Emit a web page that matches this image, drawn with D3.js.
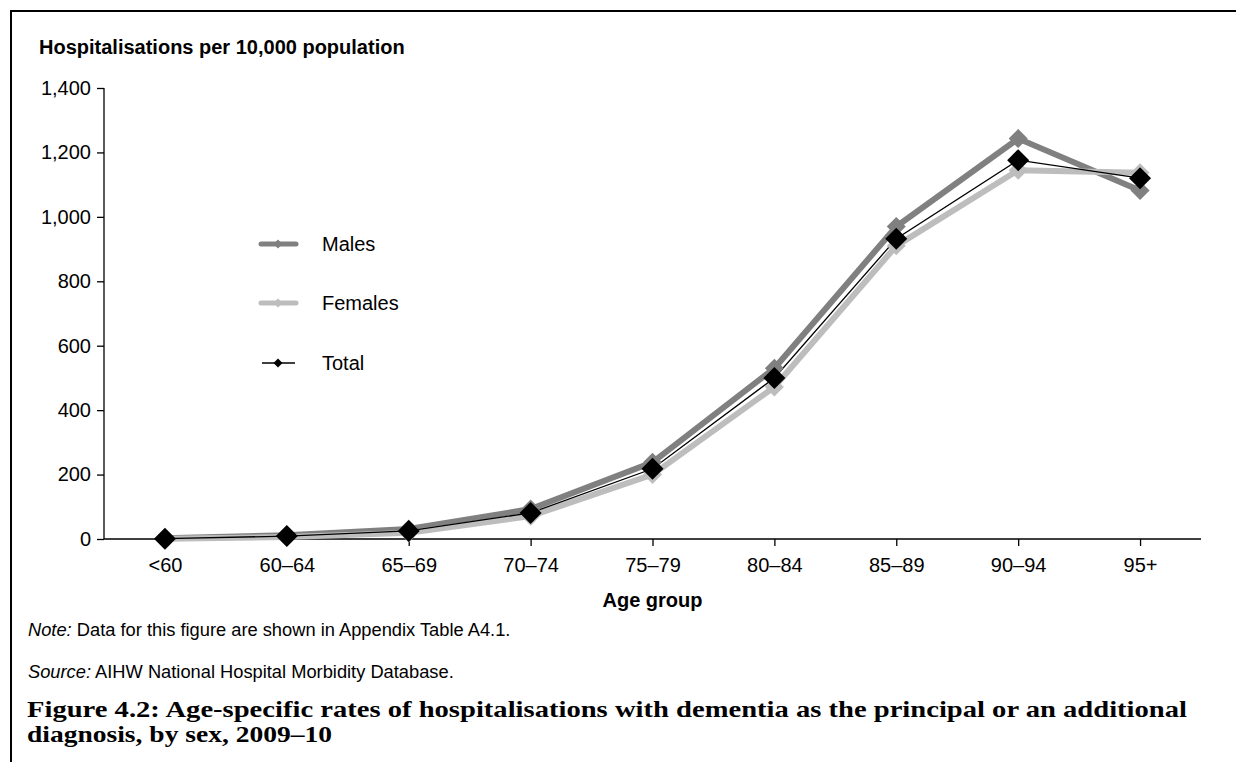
<!DOCTYPE html>
<html><head><meta charset="utf-8">
<script src="https://cdn.jsdelivr.net/npm/d3@7"></script>
<style>body{margin:0;background:#fff}svg{display:block}</style>
</head><body>
<svg id="chart" width="1236" height="762"></svg>
<script>
const categories = ["<60","60–64","65–69","70–74","75–79","80–84","85–89","90–94","95+"];
const males   = [2, 12, 31, 93, 238, 530, 970, 1243, 1082];
const females = [1, 6, 19, 71, 200, 472, 910, 1145, 1137];
const total   = [1, 9, 25, 81, 218, 500, 932, 1176, 1120];
const yTicks  = [0, 200, 400, 600, 800, 1000, 1200, 1400];
const seriesNames = ["Males","Females","Total"];

(function(){
const svg = d3.select("#chart");
const W = 1236, H = 762;
const pL = 104, pR = 1201, pT = 88, pB = 539;

// frame
svg.append("line").attr("x1",10).attr("x2",W).attr("y1",11).attr("y2",11).attr("stroke","#000").attr("stroke-width",2);
svg.append("line").attr("x1",11).attr("x2",11).attr("y1",10).attr("y2",H).attr("stroke","#000").attr("stroke-width",2);

const x = d3.scalePoint().domain(categories).range([pL, pR]).padding(0.5);
const y = d3.scaleLinear().domain([0,1400]).range([pB, pT]);

const font = "Liberation Sans, Arial, sans-serif";

// y axis
const yAxis = svg.append("g").attr("transform",`translate(${pL},0)`)
  .call(d3.axisLeft(y).tickValues(yTicks).tickSize(7).tickPadding(6).tickFormat(d3.format(",")));
yAxis.select(".domain").attr("stroke","#000").attr("stroke-width",1.3).attr("d",`M0,${pT}V${pB}`);
yAxis.selectAll(".tick line").attr("stroke","#000").attr("stroke-width",1.3);
yAxis.selectAll("text").attr("font-family",font).attr("font-size",20).attr("fill","#000");

// x axis
const xAxis = svg.append("g").attr("transform",`translate(0,${pB})`)
  .call(d3.axisBottom(x).tickSize(7).tickPadding(12));
xAxis.select(".domain").attr("stroke","#000").attr("stroke-width",1.3).attr("d",`M${pL},0H${pR}`);
xAxis.selectAll(".tick line").attr("stroke","#000").attr("stroke-width",1.3);
xAxis.selectAll("text").attr("font-family",font).attr("font-size",20).attr("fill","#000");

// titles
svg.append("text").attr("x",39).attr("y",54).attr("font-family",font).attr("font-weight","bold")
  .attr("font-size",20).text("Hospitalisations per 10,000 population");
svg.append("text").attr("x",(pL+pR)/2).attr("y",607).attr("text-anchor","middle").attr("font-family",font)
  .attr("font-weight","bold").attr("font-size",20).text("Age group");

// series
const series = [
  {name:"Males", values:males, color:"#808080", width:6, msize:19},
  {name:"Females", values:females, color:"#bdbdbd", width:6, msize:19},
  {name:"Total", values:total, color:"#000", width:1.3, msize:22}
];
const line = d3.line().x((d,i)=>x(categories[i])).y(d=>y(d));
const diamond = s => `M0,${-s/2}L${s/2},0L0,${s/2}L${-s/2},0Z`;

series.forEach(s=>{
  svg.append("path").datum(s.values).attr("d",line).attr("fill","none")
    .attr("stroke",s.color).attr("stroke-width",s.width).attr("stroke-linejoin","miter");
});
series.forEach(s=>{
  svg.append("g").selectAll("path").data(s.values).join("path")
    .attr("transform",(d,i)=>`translate(${x(categories[i])},${y(d)})`)
    .attr("d",diamond(s.msize)).attr("fill",s.color);
});

// legend
const legY = [244, 303, 363];
series.forEach((s,i)=>{
  const g = svg.append("g").attr("transform",`translate(0,${legY[i]})`);
  if (s.name==="Total") {
    g.append("line").attr("x1",262).attr("x2",295).attr("stroke","#000").attr("stroke-width",1.3);
    g.append("path").attr("transform","translate(278,0)").attr("d",diamond(9)).attr("fill","#000");
  } else {
    g.append("line").attr("x1",261).attr("x2",296).attr("stroke",s.color).attr("stroke-width",5).attr("stroke-linecap","round");
    g.append("path").attr("transform","translate(278,0)").attr("d",diamond(9)).attr("fill",s.color);
  }
  g.append("text").attr("x",322).attr("y",7).attr("font-family",font).attr("font-size",20).text(seriesNames[i]);
});

// notes
const note = svg.append("text").attr("x",28).attr("y",636).attr("font-family",font).attr("font-size",18.3);
note.append("tspan").attr("font-style","italic").text("Note:");
note.append("tspan").text(" Data for this figure are shown in Appendix Table A4.1.");
const src = svg.append("text").attr("x",28).attr("y",678).attr("font-family",font).attr("font-size",18.3);
src.append("tspan").attr("font-style","italic").text("Source:");
src.append("tspan").text(" AIHW National Hospital Morbidity Database.");

// caption
const cap = ["Figure 4.2: Age-specific rates of hospitalisations with dementia as the principal or an additional",
             "diagnosis, by sex, 2009–10"];
const capFont = "Liberation Serif, Times New Roman, serif";
svg.append("text").attr("x",27).attr("y",717).attr("font-family",capFont).attr("font-weight","bold")
  .attr("font-size",23).attr("textLength",1160).attr("lengthAdjust","spacingAndGlyphs").text(cap[0]);
svg.append("text").attr("x",27).attr("y",742).attr("font-family",capFont).attr("font-weight","bold")
  .attr("font-size",23).attr("textLength",305).attr("lengthAdjust","spacingAndGlyphs").text(cap[1]);
})();
</script>
</body></html>
